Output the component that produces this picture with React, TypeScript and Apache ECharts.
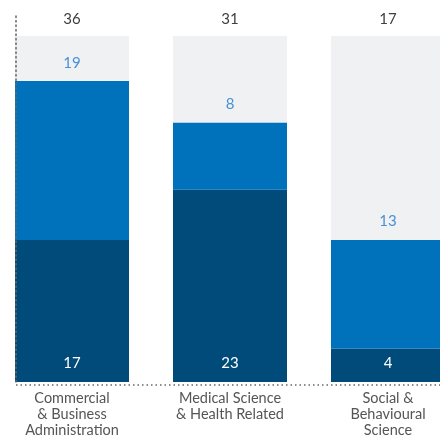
import React, { useEffect, useRef } from "react";
import * as echarts from "echarts";

const categories = [
  "Commercial\n& Business\nAdministration",
  "Medical Science\n& Health Related",
  "Social &\nBehavioural\nScience",
];
const darkValues = [17, 23, 4];
const blueValues = [19, 8, 13];
const totals = [36, 31, 17];
const backgroundLevel = 41.4;
const axisMax = 43.9;

export default function App() {
  const ref = useRef<HTMLDivElement>(null);
  useEffect(() => {
    if (!ref.current) return;
    const chart = echarts.init(ref.current, undefined, { renderer: "svg" });
    const font = "Lato, 'Open Sans', sans-serif";
    chart.setOption({
      animation: false,
      textStyle: { fontFamily: font },
      grid: {
        left: -7,
        right: -27,
        top: 15,
        bottom: 55,
        containLabel: false,
        outerBoundsMode: "none",
      },
      xAxis: {
        type: "category",
        data: categories,
        offset: 3,
        axisLine: { show: false },
        axisTick: { show: false },
        axisLabel: {
          color: "#555555",
          fontSize: 14.5,
          lineHeight: 16,
          margin: 4,
          fontFamily: font,
          interval: 0,
        },
      },
      yAxis: {
        type: "value",
        min: 0,
        max: axisMax,
        offset: -23,
        z: 10,
        splitLine: { show: false },
        axisTick: { show: false },
        axisLabel: { show: false },
        axisLine: {
          show: true,
          lineStyle: { color: "#666666", width: 1.5, type: [1.5, 3] },
        },
      },
      graphic: [
        {
          type: "line",
          shape: { x1: 16, y1: 385, x2: 440, y2: 385 },
          style: { stroke: "#666666", lineWidth: 1.5, lineDash: [1.5, 3] },
          z: 10,
        },
      ],
      series: [
        {
          type: "bar",
          name: "background",
          data: categories.map(() => backgroundLevel),
          barWidth: 114,
          barGap: "-100%",
          itemStyle: { color: "#F0F1F3" },
          z: 1,
          label: {
            show: true,
            position: "top",
            distance: 10,
            color: "#3f3f3f",
            fontSize: 15,
            fontFamily: font,
            formatter: (p: any) => String(totals[p.dataIndex]),
          },
        },
        {
          type: "bar",
          name: "dark",
          stack: "s",
          data: darkValues,
          barWidth: 114,
          itemStyle: { color: "#004B7A" },
          z: 2,
          label: {
            show: true,
            position: "insideBottom",
            distance: 13,
            color: "#ffffff",
            fontSize: 15,
            fontFamily: font,
          },
        },
        {
          type: "bar",
          name: "blue",
          stack: "s",
          data: blueValues,
          barWidth: 114,
          itemStyle: { color: "#0071BB" },
          z: 2,
          label: {
            show: true,
            position: "top",
            distance: 12,
            color: "#4A90D6",
            fontSize: 15,
            fontFamily: font,
          },
        },
      ],
    });
    return () => chart.dispose();
  }, []);
  return (
    <div
      ref={ref}
      style={{ position: "fixed", left: 0, top: 0, width: 440, height: 437 }}
    />
  );
}
